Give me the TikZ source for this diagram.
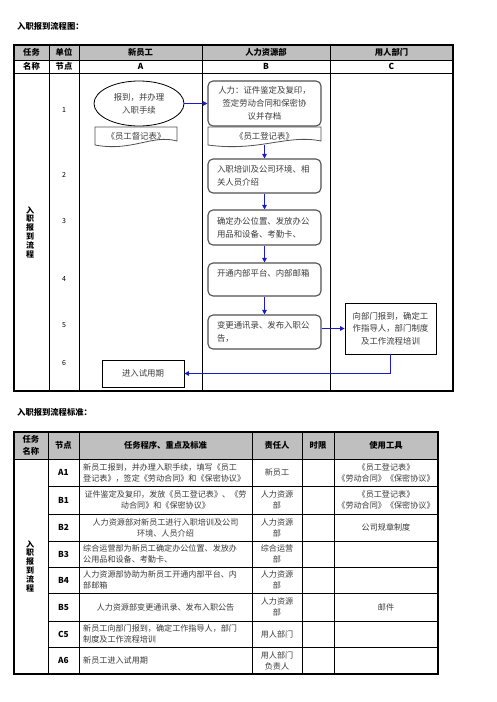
\documentclass[tikz,border=0pt]{standalone}
\usepackage{fontspec}
\setmainfont{Noto Sans CJK SC}
\usetikzlibrary{shapes.geometric,arrows.meta,positioning}

% Document shape with wavy bottom: left, right, top
\newcommand{\docWave}[3]{%
  \draw[docLine] (#1,#3) -- (#2,#3) -- (#2,{#3+14})
    .. controls ({#2-0.3*(#2-#1)},{#3+7}) and ({#1+0.45*(#2-#1)},{#3+25}) .. (#1,{#3+18}) -- cycle;}

\begin{document}
\begin{tikzpicture}[x=1pt, y=-1pt,
    gridLine/.style={draw=black, line width=0.7pt},
    outerLine/.style={draw=black, line width=1.3pt},
    headText/.style={font=\bfseries\fontsize{8.3}{12.5}\selectfont, align=center, inner sep=0pt},
    numText/.style={font=\fontsize{7}{8}\selectfont, inner sep=0pt},
    vertText/.style={font=\bfseries\fontsize{8}{8.8}\selectfont, align=center, inner sep=0pt},
    bodyText/.style={font=\fontsize{8.1}{11}\selectfont, text=textGrey, inner sep=1pt},
    flowText/.style={font=\fontsize{8.4}{13}\selectfont, text=textGrey},
    hrBox/.style={flowText, draw=boxBorder, line width=1.1pt, rounded corners=5pt,
        minimum width=113pt, text width=95pt, inner xsep=9pt, align=left},
    plainBox/.style={flowText, draw=black, line width=0.8pt, align=center, inner sep=0pt},
    docText/.style={flowText, minimum width=113pt, minimum height=18pt, inner sep=0pt},
    docLine/.style={draw=boxBorder, line width=0.8pt},
    flowArrow/.style={draw=flowBlue, line width=1.3pt, -{Triangle[length=4.5pt,width=4.5pt]}}]

    \definecolor{flowBlue}{HTML}{1A1AC8}
    \definecolor{boxBorder}{HTML}{505050}
    \definecolor{headGrey}{HTML}{BFBFBF}
    \definecolor{textGrey}{HTML}{3A3A3A}

    \useasboundingbox (0,0) rectangle (496,702);

    % Titles
    \node[headText, anchor=west] (flowTitle) at (17,26) {入职报到流程图：};
    \node[headText, anchor=west] (stdTitle) at (17,412) {入职报到流程标准：};

    % Flow chart table
    \fill[headGrey] (14,45) rectangle (453,60);
    \foreach \y in {60,73}
        \draw[gridLine] (14,\y) -- (453,\y);
    \foreach \x in {49,79,202,330}
        \draw[gridLine] (\x,45) -- (\x,391);
    \draw[outerLine] (14,45) rectangle (453,391);

    \foreach \x/\txt [count=\i] in {31.5/任务,64/单位,140.5/新员工,266/人力资源部,391.5/用人部门}
        \node[headText] (headA\i) at (\x,52.5) {\txt};
    \foreach \x/\txt [count=\i] in {31.5/名称,64/节点,140.5/A,266/B,391.5/C}
        \node[headText] (headB\i) at (\x,66.5) {\txt};

    \foreach \n/\y in {1/110,2/175,3/221,4/279,5/325,6/363}
        \node[numText] (num\n) at (64,\y) {\n};

    \node[vertText] (flowName) at (30,232) {入\\职\\报\\到\\流\\程};

    % Steps
    \node[ellipse, draw=black, line width=0.8pt, flowText, align=center, inner sep=0pt,
        minimum width=90pt, minimum height=45pt] (newStaff) at (139,103.5) {报到，并办理\\入职手续};
    \docWave{95}{177}{127}
    \node[docText, minimum width=82pt] (docA) at (136,136) {《员工督记表》};

    \node[hrBox, align=center, minimum height=45pt] (hrB1) at (264.5,103.5)
        {人力：证件鉴定及复印，\\签定劳动合同和保密协\\议并存档};
    \docWave{208}{321}{127}
    \node[docText] (docB) at (264.5,136) {《员工登记表》};

    \node[hrBox, minimum height=34pt] (hrB2) at (264.5,176) {入职培训及公司环境、相\\关人员介绍};
    \node[hrBox, minimum height=35pt] (hrB3) at (264.5,227.5) {确定办公位置、发放办公\\用品和设备、考勤卡、};
    \node[hrBox, minimum height=33pt] (hrB4) at (264.5,279.5) {开通内部平台、内部邮箱\\ \mbox{}};
    \node[hrBox, minimum height=34pt] (hrB5) at (264.5,332) {变更通讯录、发布入职公\\告，};

    \node[plainBox, font=\fontsize{8.4}{12.5}\selectfont, minimum width=91pt, minimum height=51pt]
        (depC5) at (390.5,328.5) {向部门报到，确定工\\作指导人，部门制度\\及工作流程培训};
    \node[plainBox, minimum width=82pt, minimum height=27pt] (trialA6) at (143,373.5) {进入试用期};

    % Connectors
    \draw[flowArrow] (newStaff.east) -- (newStaff.east -| hrB1.west);
    \draw[flowArrow] (docB.south) -- (hrB2.north);
    \draw[flowArrow] (hrB2.south) -- (hrB3.north);
    \draw[flowArrow] (hrB3.south) -- (hrB4.north);
    \draw[flowArrow] (hrB4.south) -- (hrB5.north);
    \draw[flowArrow] (depC5.west -| hrB5.east) -- (depC5.west);
    \draw[flowArrow] (depC5.south) |- (trialA6.east);

    % Standards table
    \fill[headGrey] (14,432) rectangle (438,459);
    \draw[gridLine] (14,459) -- (438,459);
    \foreach \y in {486,514,541,567,593,621,647}
        \draw[gridLine] (48,\y) -- (438,\y);
    \foreach \x in {48,79,252,302,334}
        \draw[gridLine] (\x,432) -- (\x,674);
    \draw[outerLine] (14,432) rectangle (438,674);

    \foreach \x/\txt [count=\i] in {31/任务\\名称,63.5/节点,165.5/任务程序、重点及标准,277/责任人,318/时限,386/使用工具}
        \node[headText] (headC\i) at (\x,445.5) {\txt};

    \node[vertText] (stdName) at (30,566) {入\\职\\报\\到\\流\\程};

    \foreach \code/\y [count=\i] in {A1/472.5,B1/500,B2/527.5,B3/554,B4/580,B5/607,C5/634,A6/660.5}
        \node[headText] (code\i) at (63.5,\y) {\code};

    % Task standards
    \node[bodyText, anchor=west, align=left] (taskA1) at (82,472.5)
        {新员工报到，并办理入职手续，填写《员工\\登记表》，签定《劳动合同》和《保密协议》};
    \node[bodyText, align=center] (taskB1) at (165.5,500)
        {证件鉴定及复印，发放《员工登记表》、《劳\\动合同》和《保密协议》};
    \node[bodyText, align=center] (taskB2) at (165.5,527.5)
        {人力资源部对新员工进行入职培训及公司\\环境、人员介绍};
    \node[bodyText, anchor=west, align=left] (taskB3) at (82,554)
        {综合运营部为新员工确定办公位置、发放办\\公用品和设备、考勤卡、};
    \node[bodyText, anchor=west, align=left] (taskB4) at (82,580)
        {人力资源部协助为新员工开通内部平台、内\\部邮箱};
    \node[bodyText, align=center] (taskB5) at (165.5,607) {人力资源部变更通讯录、发布入职公告};
    \node[bodyText, anchor=west, align=left] (taskC5) at (82,634)
        {新员工向部门报到，确定工作指导人，部门\\制度及工作流程培训};
    \node[bodyText, anchor=west, align=left] (taskA6) at (82,660.5) {新员工进入试用期};

    % Responsible persons
    \foreach \txt/\y [count=\i] in {新员工/472.5,人力资源\\部/500,人力资源\\部/527.5,综合运营\\部/554,
            人力资源\\部/580,人力资源\\部/607,用人部门/634,用人部门\\负责人/660.5}
        \node[bodyText, align=center] (owner\i) at (277,\y) {\txt};

    % Tools
    \node[bodyText, align=center] (toolA1) at (386,472.5) {《员工登记表》\\《劳动合同》《保密协议》};
    \node[bodyText, align=center] (toolB1) at (386,500) {《员工登记表》\\《劳动合同》《保密协议》};
    \node[bodyText, align=center] (toolB2) at (386,527.5) {公司规章制度};
    \node[bodyText, align=center] (toolB5) at (386,607) {邮件};

\end{tikzpicture}
\end{document}
